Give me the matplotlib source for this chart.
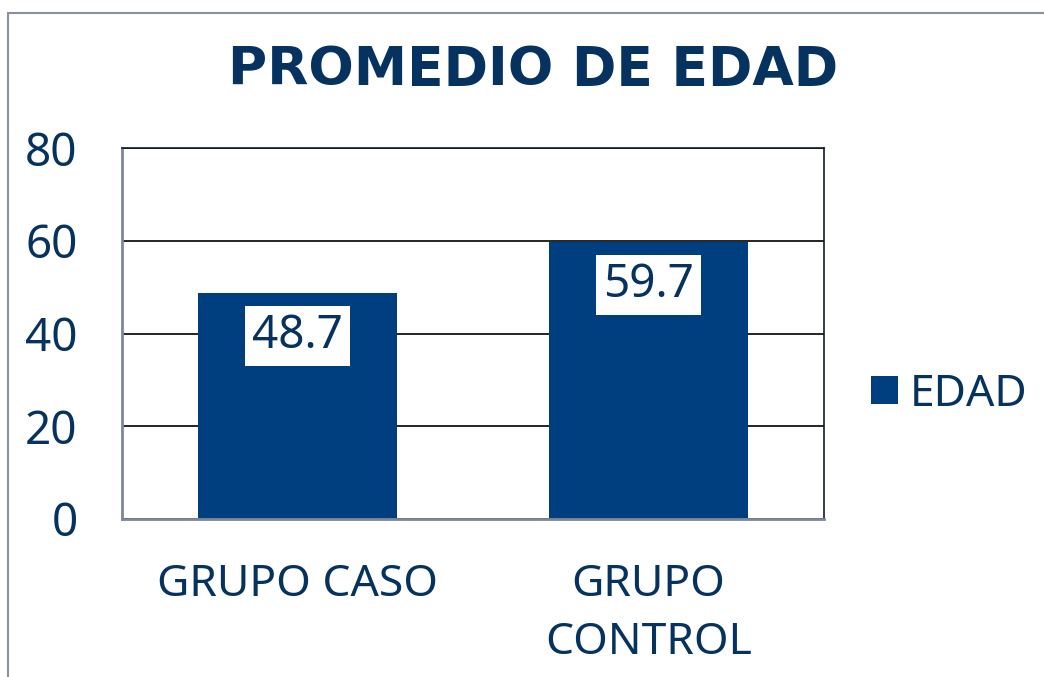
import matplotlib.pyplot as plt
from matplotlib.patches import Rectangle

categories = ["GRUPO CASO", "GRUPO\nCONTROL"]
edad = [48.7, 59.7]
yticks = [0, 20, 40, 60, 80]

bar_color = "#003f7f"
text_color = "#05325f"
plt.rcParams['font.family'] = ['Noto Sans', 'DejaVu Sans']

fig = plt.figure(figsize=(10.44, 6.77), dpi=100)
W, H = 1044, 677

# outer chart border (runs off the right and bottom edges)
fig.patches.append(Rectangle((8 / W, -0.1), 1.2, 1 - 13 / H + 0.1,
                             transform=fig.transFigure, fill=False,
                             edgecolor="#8a90a0", linewidth=1.5))

ax = fig.add_axes([122 / W, 1 - 519 / H, (824 - 122) / W, (519 - 148) / H])
x = range(len(categories))
bars = ax.bar(x, edad, width=0.567, color=bar_color, zorder=2, label="EDAD")
ax.set_xlim(-0.5, 1.5)
ax.set_ylim(0, 80)
ax.set_yticks(yticks)
ax.set_xticks(list(x))
ax.set_xticklabels(categories, fontsize=32, color=text_color, linespacing=1.4)
ax.tick_params(axis="y", labelsize=33, labelcolor=text_color, length=0, pad=32)
ax.tick_params(axis="x", length=0, pad=32)
ax.yaxis.grid(True, color="black", linewidth=1.2, zorder=1)

for side in ["left", "bottom"]:
    ax.spines[side].set_color("#7f8898")
    ax.spines[side].set_linewidth(2)
for side in ["top", "right"]:
    ax.spines[side].set_color("#111a2a")
    ax.spines[side].set_linewidth(1.2)

for b, v in zip(bars, edad):
    ax.annotate(f"{v}", (b.get_x() + b.get_width() / 2, v),
                xytext=(0, -31), textcoords="offset points",
                ha="center", va="center", fontsize=33, color=text_color,
                bbox=dict(boxstyle="square,pad=0.15", fc="white", ec="none"),
                zorder=3)

fig.text(533 / W, 1 - 70 / H, "PROMEDIO DE EDAD", ha="center", va="center",
         fontsize=38.5, fontweight="bold", color=text_color,
         family="DejaVu Sans")

leg = fig.legend(handles=[bars], labels=["EDAD"], loc="center left",
                 bbox_to_anchor=(871 / W, 1 - 395 / H), frameon=False,
                 borderpad=0, borderaxespad=0,
                 fontsize=32, labelcolor=text_color, handlelength=0.6,
                 handleheight=0.6, handletextpad=0.28)

fig.savefig("out.png", dpi=100)
